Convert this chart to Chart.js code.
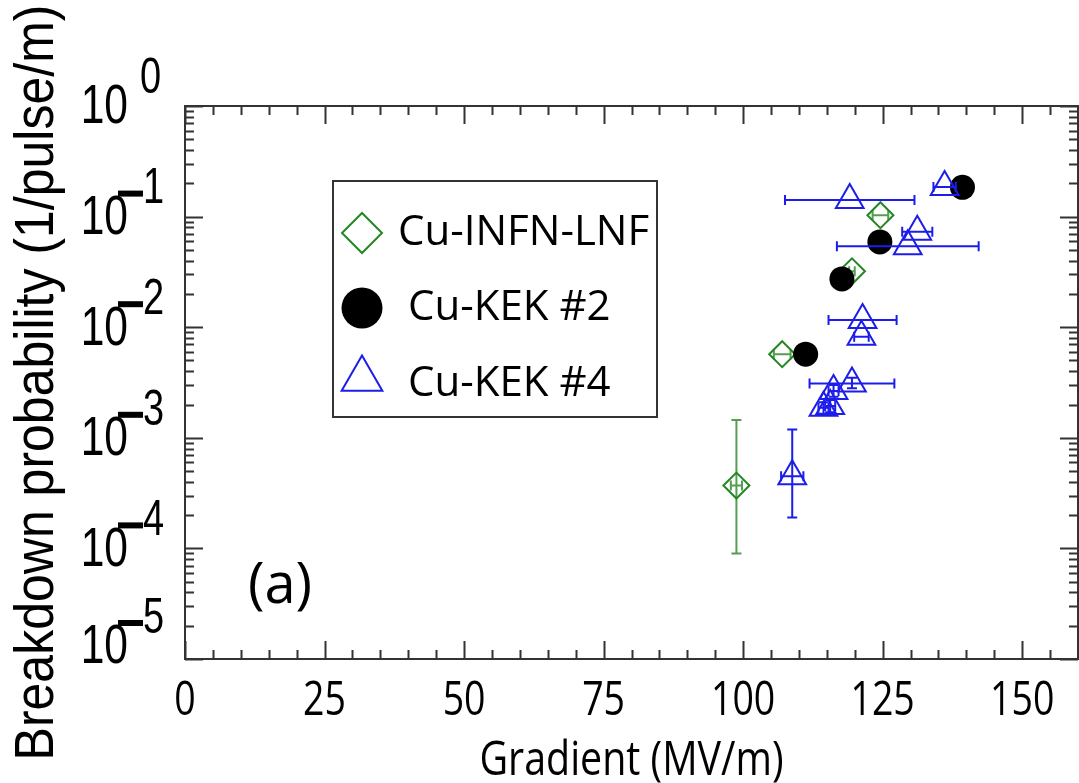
<!DOCTYPE html>
<html>
<head>
<meta charset="utf-8">
<script src="https://cdn.jsdelivr.net/npm/chart.js@4.4.0/dist/chart.umd.min.js"></script>
<style>
  html, body { margin: 0; padding: 0; background: #fff; overflow: hidden; }
  #wrap { width: 1079px; height: 783px; position: relative; }
  canvas { display: block; }
</style>
</head>
<body>
<div id="wrap"><canvas id="bdChart"></canvas></div>
<script>
// Cu-INFN-LNF (green diamonds)
const infnGrad = [98.8, 107.0, 119.5, 124.6];
const infnBdp = [0.00037, 0.0057, 0.032, 0.103];
const infnGradErr = [1.0, 1.5, 0.5, 1.4];
const infnBdpLow = [0.00009, 0.0057, 0.032, 0.103];
const infnBdpHigh = [0.00145, 0.0057, 0.032, 0.103];

// Cu-KEK #2 (black dots)
const kek2Grad = [111.2, 117.7, 124.5, 139.3];
const kek2Bdp = [0.0057, 0.0273, 0.059, 0.184];

// Cu-KEK #4 (blue triangles)
const kek4Grad = [108.8, 114.4, 115.6, 116.2, 119.5, 121.2, 121.4, 119.1, 129.5, 131.2, 136.1];
const kek4Bdp = [0.00045, 0.00187, 0.00194, 0.00265, 0.0031, 0.0082, 0.0116, 0.141, 0.054, 0.073, 0.185];
const kek4GradErr = [2.0, 0.9, 0.9, 0.9, 7.6, 1.3, 6.1, 11.6, 12.7, 2.7, 2.0];
const kek4BdpLow = [0.00019, 0.00165, 0.0017, 0.00235, 0.0028, 0.0082, 0.0116, 0.141, 0.054, 0.073, 0.185];
const kek4BdpHigh = [0.00119, 0.0021, 0.0022, 0.003, 0.0035, 0.0082, 0.0116, 0.141, 0.054, 0.073, 0.185];

const xTickLabels = [0, 25, 50, 75, 100, 125, 150];
const yDecades = [0, -1, -2, -3, -4, -5];
const seriesNames = ['Cu-INFN-LNF', 'Cu-KEK #2', 'Cu-KEK #4'];

const GREEN = 'rgb(36,135,36)';
const GREEN_BAR = 'rgb(80,160,80)';
const BLUE = 'rgb(28,28,235)';

const toPoints = (xs, ys) => xs.map((x, i) => ({x: x, y: ys[i]}));

function drawErrBars(chart, xs, ys, xe, lo, hi, color) {
  const {ctx, scales: {x, y}} = chart;
  const cap = 5;
  ctx.save();
  ctx.strokeStyle = color;
  ctx.lineWidth = 2;
  xs.forEach((v, i) => {
    const py = y.getPixelForValue(ys[i]);
    const px = x.getPixelForValue(v);
    if (xe[i] > 0) {
      const x1 = x.getPixelForValue(v - xe[i]);
      const x2 = x.getPixelForValue(v + xe[i]);
      ctx.beginPath();
      ctx.moveTo(x1, py); ctx.lineTo(x2, py);
      ctx.moveTo(x1, py - cap); ctx.lineTo(x1, py + cap);
      ctx.moveTo(x2, py - cap); ctx.lineTo(x2, py + cap);
      ctx.stroke();
    }
    if (lo[i] !== hi[i]) {
      const y1 = y.getPixelForValue(hi[i]);
      const y2 = y.getPixelForValue(lo[i]);
      ctx.beginPath();
      ctx.moveTo(px, y1); ctx.lineTo(px, y2);
      ctx.moveTo(px - cap, y1); ctx.lineTo(px + cap, y1);
      ctx.moveTo(px - cap, y2); ctx.lineTo(px + cap, y2);
      ctx.stroke();
    }
  });
  ctx.restore();
}

function marker(ctx, style, cx, cy, r, color) {
  ctx.save();
  ctx.beginPath();
  if (style === 'diamond') {
    ctx.moveTo(cx - r, cy); ctx.lineTo(cx, cy - r); ctx.lineTo(cx + r, cy); ctx.lineTo(cx, cy + r);
    ctx.closePath();
    ctx.strokeStyle = color; ctx.lineWidth = 2; ctx.stroke();
  } else if (style === 'circle') {
    ctx.arc(cx, cy, r, 0, Math.PI * 2);
    ctx.fillStyle = color; ctx.fill();
  } else {
    const h = r * Math.sqrt(3) / 2;
    ctx.moveTo(cx, cy - r); ctx.lineTo(cx + h, cy + r / 2); ctx.lineTo(cx - h, cy + r / 2);
    ctx.closePath();
    ctx.strokeStyle = color; ctx.lineWidth = 2; ctx.stroke();
  }
  ctx.restore();
}

// squeezed text, like the condensed face in the original figure
function squeezed(ctx, text, x, y, sx, sy) {
  ctx.save();
  ctx.translate(x, y);
  ctx.scale(sx, sy);
  ctx.fillText(text, 0, 0);
  ctx.restore();
}

const errorBars = {
  id: 'errorBars',
  beforeDatasetsDraw(chart) {
    drawErrBars(chart, infnGrad, infnBdp, infnGradErr, infnBdpLow, infnBdpHigh, GREEN_BAR);
  },
  afterDatasetsDraw(chart) {
    drawErrBars(chart, kek4Grad, kek4Bdp, kek4GradErr, kek4BdpLow, kek4BdpHigh, BLUE);
  }
};

const frameAndText = {
  id: 'frameAndText',
  afterDraw(chart) {
    const {ctx, chartArea: a, scales: {x, y}} = chart;
    ctx.save();
    ctx.strokeStyle = '#333';
    ctx.lineWidth = 2;
    ctx.strokeRect(a.left, a.top, a.right - a.left, a.bottom - a.top);

    // inward ticks, all four sides
    ctx.beginPath();
    for (let v = 0; v <= 160; v += 5) {
      const px = Math.round(x.getPixelForValue(v)) + 0.5;
      const len = v % 25 === 0 ? 18 : 9;
      ctx.moveTo(px, a.bottom); ctx.lineTo(px, a.bottom - len);
      ctx.moveTo(px, a.top); ctx.lineTo(px, a.top + len);
    }
    for (let d = -5; d <= 0; d++) {
      for (let m = 1; m < 10; m++) {
        if (d === 0 && m > 1) break;
        const py = Math.round(y.getPixelForValue(m * Math.pow(10, d))) + 0.5;
        const len = m === 1 ? 18 : 9;
        ctx.moveTo(a.left, py); ctx.lineTo(a.left + len, py);
        ctx.moveTo(a.right, py); ctx.lineTo(a.right - len, py);
      }
    }
    ctx.stroke();

    // x tick labels
    ctx.fillStyle = '#000';
    ctx.textBaseline = 'middle';
    ctx.textAlign = 'center';
    ctx.font = '48px "Open Sans"';
    xTickLabels.forEach(v => {
      squeezed(ctx, String(v), x.getPixelForValue(v), 701, 0.78, 1);
    });

    // x title
    ctx.font = '48px "Open Sans"';
    squeezed(ctx, 'Gradient (MV/m)', (a.left + a.right) / 2, 761, 0.82, 1);

    // y tick labels 10^n
    yDecades.forEach(d => {
      const py = y.getPixelForValue(Math.pow(10, d)) + (d === -5 ? -11 : 2);
      ctx.textAlign = 'right';
      ctx.font = '56px "Liberation Sans"';
      squeezed(ctx, '10', 128, py, 0.76, 1);
      if (d < 0) ctx.fillRect(118, py - 28, 25, 6);
      ctx.textAlign = 'left';
      ctx.font = '50px "Liberation Sans"';
      squeezed(ctx, String(Math.abs(d)), d < 0 ? 143 : 140, py - 29, 0.76, 1);
    });

    // y title
    ctx.save();
    ctx.translate(38, (a.top + a.bottom) / 2);
    ctx.rotate(-Math.PI / 2);
    ctx.scale(1, 1.1);
    ctx.textAlign = 'center';
    ctx.font = '50px "Liberation Sans"';
    ctx.fillText('Breakdown probability (1/pulse/m)', 0, 0);
    ctx.restore();

    // panel label
    ctx.textAlign = 'center';
    ctx.font = '56px "Open Sans"';
    ctx.fillText('(a)', 280, 587);

    // legend box
    ctx.strokeStyle = '#333';
    ctx.lineWidth = 2;
    ctx.strokeRect(333, 181, 324, 236);
    marker(ctx, 'diamond', 362, 233, 20, GREEN);
    marker(ctx, 'circle', 362, 308, 20.5, '#000');
    marker(ctx, 'triangle', 362, 379, 23.5, BLUE);
    ctx.fillStyle = '#000';
    ctx.textAlign = 'left';
    ctx.font = '42px "Open Sans"';
    ctx.fillText(seriesNames[0], 398, 233);
    ctx.fillText(seriesNames[1], 408, 308);
    ctx.fillText(seriesNames[2], 408, 384);
    ctx.restore();
  }
};

new Chart(document.getElementById('bdChart'), {
  type: 'scatter',
  data: {
    datasets: [{
      label: seriesNames[0],
      data: toPoints(infnGrad, infnBdp),
      pointStyle: 'rectRot',
      pointRadius: 13,
      borderColor: GREEN,
      backgroundColor: 'rgba(0,0,0,0)',
      borderWidth: 2,
      order: 3
    }, {
      label: seriesNames[1],
      data: toPoints(kek2Grad, kek2Bdp),
      pointStyle: 'circle',
      pointRadius: 12.5,
      borderColor: '#000',
      backgroundColor: '#000',
      borderWidth: 0,
      order: 2
    }, {
      label: seriesNames[2],
      data: toPoints(kek4Grad, kek4Bdp),
      pointStyle: 'triangle',
      pointRadius: 16,
      borderColor: BLUE,
      backgroundColor: 'rgba(0,0,0,0)',
      borderWidth: 2,
      order: 1
    }]
  },
  options: {
    responsive: true,
    maintainAspectRatio: false,
    animation: false,
    layout: { autoPadding: false, padding: { top: 106, right: 1, left: 0, bottom: 0 } },
    plugins: { legend: { display: false }, tooltip: { enabled: false } },
    scales: {
      x: {
        type: 'linear', min: 0, max: 160,
        grid: { display: false }, border: { display: false },
        ticks: { display: false },
        afterFit: s => { s.height = 124; }
      },
      y: {
        type: 'logarithmic', min: 1e-5, max: 1,
        grid: { display: false }, border: { display: false },
        ticks: { display: false },
        afterFit: s => { s.width = 185; }
      }
    }
  },
  plugins: [errorBars, frameAndText]
});
</script>
</body>
</html>
